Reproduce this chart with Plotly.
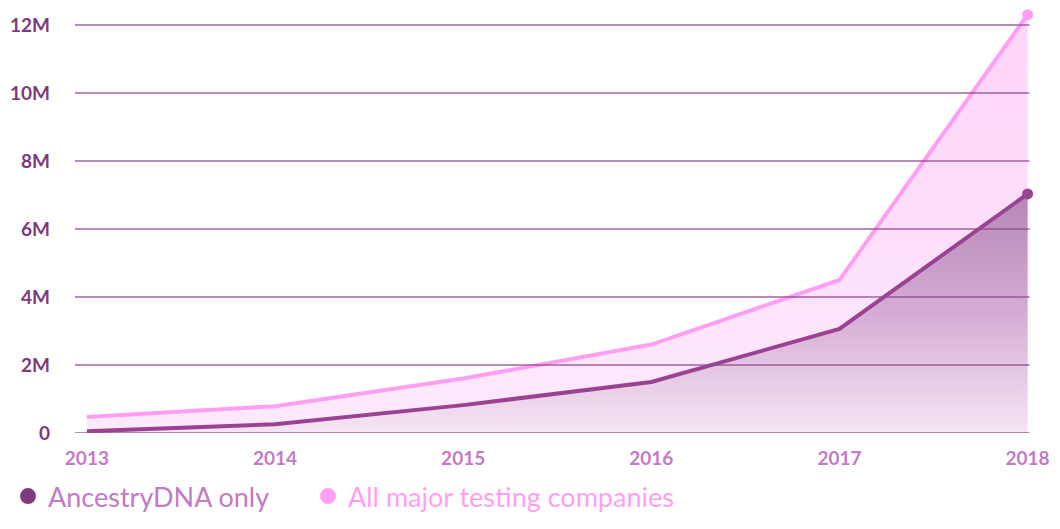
import plotly.graph_objects as go

years = [2013, 2014, 2015, 2016, 2017, 2018]
all_companies = [0.47e6, 0.79e6, 1.6e6, 2.6e6, 4.5e6, 12.3e6]
ancestry = [0.05e6, 0.26e6, 0.82e6, 1.5e6, 3.06e6, 7.03e6]
y_ticks = [0, 2e6, 4e6, 6e6, 8e6, 10e6, 12e6]
y_tick_labels = ["0", "2M", "4M", "6M", "8M", "10M", "12M"]

LIGHT = "#ff9ff3"
DARK = "#9b4393"
X0, X1 = 2012.9368, 2018.05
W, H = 1044, 513

fig = go.Figure()

fig.add_trace(go.Scatter(
    x=years, y=all_companies, name="All major testing companies",
    mode="lines", line=dict(color=LIGHT, width=4),
    fill="tozeroy",
    fillgradient=dict(type="vertical",
                      colorscale=[[0, "#fdeafc"], [1, "#ffd3fa"]]),
    showlegend=False, cliponaxis=False,
))
fig.add_trace(go.Scatter(
    x=years, y=ancestry, name="AncestryDNA only",
    mode="lines", line=dict(color=DARK, width=4),
    fill="tozeroy",
    fillgradient=dict(type="vertical",
                      colorscale=[[0, "#f5e5f4"], [0.5, "#d6acd5"], [1, "#b686b6"]]),
    showlegend=False, cliponaxis=False,
))
fig.add_trace(go.Scatter(
    x=[years[-1]], y=[all_companies[-1]], mode="markers",
    marker=dict(color=LIGHT, size=11), showlegend=False, cliponaxis=False,
))
fig.add_trace(go.Scatter(
    x=[years[-1]], y=[ancestry[-1]], mode="markers",
    marker=dict(color=DARK, size=11), showlegend=False, cliponaxis=False,
))
fig.add_trace(go.Scatter(
    x=[None], y=[None], mode="markers", name="AncestryDNA only",
    marker=dict(color="#7d3a7d", size=21), legend="legend",
))
fig.add_trace(go.Scatter(
    x=[None], y=[None], mode="markers", name="All major testing companies",
    marker=dict(color=LIGHT, size=21), legend="legend2",
))

for v in y_ticks:
    fig.add_shape(type="line", xref="x", yref="y", x0=X0, x1=years[-1] + 0.01,
                  y0=v, y1=v, line=dict(color="rgba(145,70,145,0.85)", width=1.5),
                  layer="above")

legend_common = dict(orientation="h", xref="container", yref="container",
                     xanchor="left", y=0.0, yanchor="bottom",
                     itemsizing="trace", itemwidth=30)

fig.update_layout(
    width=W, height=H,
    margin=dict(l=60, r=13.5, t=2, b=88),
    paper_bgcolor="white", plot_bgcolor="white",
    font=dict(family="Lato, Open Sans, sans-serif"),
    xaxis=dict(range=[X0, X1], tickvals=years, showgrid=False,
               zeroline=False, showline=False, ticks="",
               ticklabelstandoff=12, ticklabeloverflow="allow",
               tickfont=dict(size=19, color="#c47ac4", family="Lato", weight=700),
               tickformat="d"),
    yaxis=dict(range=[0, 12.44e6], tickvals=y_ticks, ticktext=y_tick_labels,
               showgrid=False, zeroline=False, showline=False, ticks="",
               ticklabelstandoff=24,
               tickfont=dict(size=19, color="#7d3a7d", family="Lato", weight=700)),
    legend=dict(**legend_common, x=0,
                font=dict(size=27, color="#c47ac4", family="Lato")),
    legend2=dict(**legend_common, x=300 / W,
                 font=dict(size=27, color=LIGHT, family="Lato")),
)

fig.write_html("out.html")
